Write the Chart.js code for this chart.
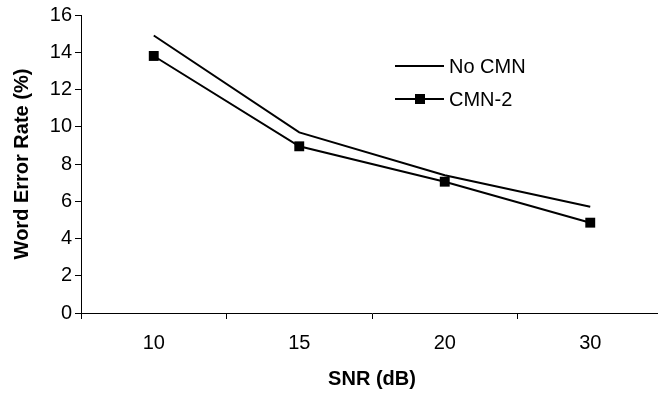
<!DOCTYPE html>
<html>
<head>
<meta charset="utf-8">
<script src="https://cdn.jsdelivr.net/npm/chart.js@4/dist/chart.umd.min.js"></script>
<style>
  html, body { margin: 0; padding: 0; background: #fff; overflow: hidden; }
  #wrap { width: 670px; height: 395px; }
</style>
</head>
<body>
<div id="wrap"><canvas id="myChart" width="670" height="395"></canvas></div>
<script>
const snr = ['10', '15', '20', '30'];
const noCmn = [14.9, 9.7, 7.4, 5.7];
const cmn2 = [13.8, 8.95, 7.05, 4.85];
const yTicks = [0, 2, 4, 6, 8, 10, 12, 14, 16];

const family = 'Arial, "Liberation Sans", sans-serif';
const font = { family: family, size: 20 };

// legend drawn inside the plot area like the original
const innerLegend = {
  id: 'innerLegend',
  afterDraw(chart) {
    const c = chart.ctx;
    const items = [
      { label: 'No CMN', marker: false, y: 66 },
      { label: 'CMN-2', marker: true, y: 99 }
    ];
    c.save();
    c.strokeStyle = '#000';
    c.fillStyle = '#000';
    c.lineWidth = 2;
    c.font = '20px ' + family;
    c.textBaseline = 'middle';
    items.forEach(it => {
      c.beginPath();
      c.moveTo(395, it.y);
      c.lineTo(444, it.y);
      c.stroke();
      if (it.marker) c.fillRect(415, it.y - 5, 10, 10);
      c.fillText(it.label, 449, it.y + 1);
    });
    c.restore();
  }
};

const ctx = document.getElementById('myChart').getContext('2d');
new Chart(ctx, {
  type: 'line',
  data: {
    labels: snr,
    datasets: [
      {
        label: 'No CMN',
        data: noCmn,
        borderColor: '#000',
        borderWidth: 2,
        pointRadius: 0,
        tension: 0
      },
      {
        label: 'CMN-2',
        data: cmn2,
        borderColor: '#000',
        backgroundColor: '#000',
        borderWidth: 2,
        pointStyle: 'rect',
        pointRadius: 7,
        pointBackgroundColor: '#000',
        pointBorderWidth: 0,
        tension: 0
      }
    ]
  },
  options: {
    responsive: false,
    animation: false,
    layout: { padding: { left: 4, top: 14, right: 1, bottom: 4 } },
    plugins: {
      legend: { display: false },
      tooltip: { enabled: false }
    },
    scales: {
      x: {
        offset: true,
        grid: {
          offset: true,
          drawOnChartArea: false,
          drawTicks: true,
          tickLength: 6,
          color: '#000'
        },
        border: { color: '#000', width: 1 },
        ticks: { color: '#000', font: font, padding: 12, maxRotation: 0 },
        title: {
          display: true,
          text: 'SNR (dB)',
          color: '#000',
          font: { family: family, size: 20, weight: 'bold' },
          padding: { top: 8, bottom: 0 }
        },
        afterFit(scale) { scale.height = 78; }
      },
      y: {
        min: 0,
        max: 16,
        afterBuildTicks(scale) { scale.ticks = yTicks.map(v => ({ value: v })); },
        grid: {
          drawOnChartArea: false,
          drawTicks: true,
          tickLength: 6,
          color: '#000'
        },
        border: { color: '#000', width: 1 },
        ticks: { color: '#000', font: font, padding: 3 },
        title: {
          display: true,
          text: 'Word Error Rate (%)',
          color: '#000',
          font: { family: family, size: 20, weight: 'bold' },
          padding: { top: 6, bottom: 6 }
        },
        afterFit(scale) { scale.width = 77; }
      }
    }
  },
  plugins: [innerLegend]
});
</script>
</body>
</html>
